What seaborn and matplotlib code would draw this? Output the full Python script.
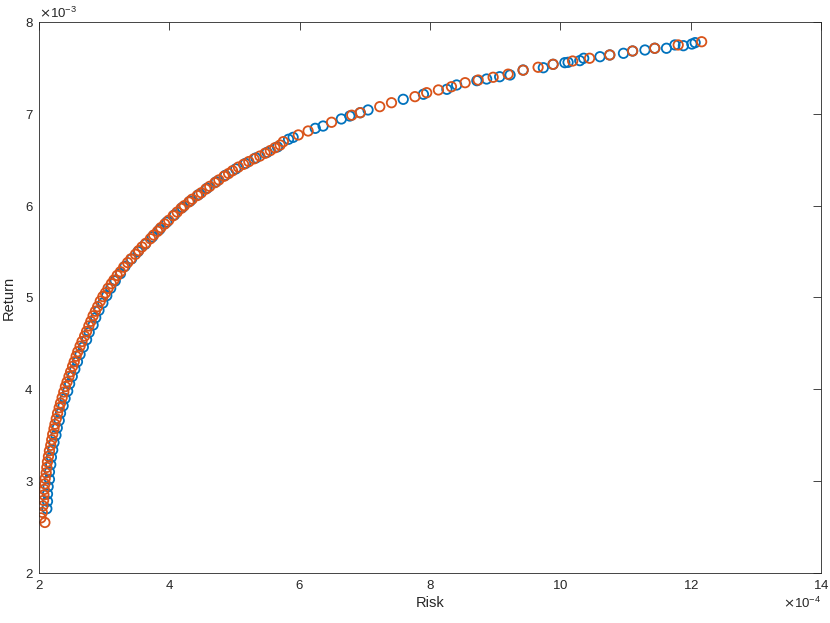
import numpy as np
import pandas as pd
import matplotlib
matplotlib.use("Agg")
import matplotlib.pyplot as plt
import seaborn as sns

# values: risk in units of 1e-4, return in units of 1e-3
blue_risk = [2.12, 2.13, 2.13, 2.14, 2.16, 2.16, 2.18, 2.19, 2.21, 2.23, 2.26, 2.28,
             2.31, 2.33, 2.37, 2.40, 2.44, 2.47, 2.51, 2.55, 2.59, 2.63, 2.68, 2.73,
             2.77, 2.83, 2.87, 2.92, 2.98, 3.04, 3.10, 3.17,
             3.25, 3.32, 3.42, 3.52, 3.63, 3.74, 3.85, 3.96, 4.08, 4.20, 4.32, 4.45, 4.58,
             4.72, 4.86, 5.02, 5.17, 5.33, 5.50, 5.66,
             5.83, 5.90, 6.24, 6.36, 6.64, 6.77, 6.93, 7.05, 7.59, 7.90, 8.26, 8.41, 8.72,
             8.87, 9.07, 9.23, 9.43, 9.74, 9.89, 10.07, 10.12, 10.30, 10.36, 10.61, 10.76,
             10.97, 11.11, 11.30, 11.45, 11.63, 11.76, 11.89, 12.02, 12.07]
blue_ret = [2.70, 2.78, 2.86, 2.94, 3.02, 3.10, 3.18, 3.26, 3.34, 3.42, 3.50, 3.58,
            3.66, 3.74, 3.82, 3.90, 3.98, 4.06, 4.14, 4.22, 4.30, 4.38, 4.46, 4.54,
            4.62, 4.70, 4.78, 4.86, 4.94, 5.02, 5.10, 5.18,
            5.26, 5.34, 5.42, 5.50, 5.58, 5.66, 5.74, 5.82, 5.90, 5.98, 6.05, 6.12, 6.19,
            6.26, 6.33, 6.40, 6.46, 6.52, 6.58, 6.64,
            6.723, 6.744, 6.842, 6.867, 6.944, 6.976, 7.012, 7.042, 7.158, 7.213, 7.267,
            7.314, 7.361, 7.379, 7.404, 7.423, 7.477, 7.502, 7.539, 7.557, 7.561, 7.579,
            7.605, 7.622, 7.641, 7.659, 7.684, 7.695, 7.714, 7.714, 7.750, 7.742, 7.760,
            7.775]

orange_risk = [2.09, 2.03, 2.05, 2.06, 2.07, 2.075, 2.08, 2.09, 2.095, 2.11, 2.12, 2.13,
               2.145, 2.16, 2.18, 2.195,
               2.21, 2.23, 2.245, 2.265, 2.285, 2.31, 2.33, 2.355, 2.38,
               2.405, 2.43, 2.46, 2.485, 2.515, 2.54, 2.57, 2.595, 2.63,
               2.66, 2.70, 2.73, 2.765, 2.795, 2.83, 2.865, 2.90, 2.94,
               2.98, 3.02, 3.06, 3.11, 3.15, 3.20, 3.25, 3.30, 3.36, 3.41, 3.48,
               3.53, 3.58, 3.64, 3.71, 3.76, 3.82, 3.87, 3.93, 3.99, 4.06, 4.12, 4.18,
               4.23, 4.30, 4.35, 4.43, 4.49, 4.56, 4.62, 4.70, 4.76, 4.84, 4.91, 4.97,
               5.06, 5.14, 5.22,
               5.30, 5.39, 5.47, 5.55, 5.62, 5.70,
               5.75, 5.98, 6.13, 6.49, 6.80, 6.93, 7.23, 7.41, 7.77, 7.95, 8.13, 8.33,
               8.54, 8.74, 8.97, 9.20, 9.43, 9.66, 9.89, 10.19, 10.45, 10.76, 11.11,
               11.45, 11.81, 12.17]
orange_ret = [2.55, 2.60, 2.66, 2.73, 2.79, 2.85, 2.91, 2.97, 3.03, 3.09, 3.15, 3.21,
              3.27, 3.33, 3.39, 3.45,
              3.51, 3.57, 3.62, 3.68, 3.74, 3.80, 3.85, 3.91, 3.97,
              4.03, 4.08, 4.14, 4.19, 4.25, 4.30, 4.36, 4.41, 4.47,
              4.52, 4.58, 4.63, 4.69, 4.74, 4.80, 4.85, 4.90, 4.96,
              5.01, 5.05, 5.10, 5.15, 5.19, 5.24, 5.28, 5.33, 5.38, 5.42, 5.47,
              5.51, 5.55, 5.59, 5.64, 5.68, 5.72, 5.76, 5.80, 5.84, 5.89, 5.93, 5.97,
              6.00, 6.04, 6.07, 6.11, 6.14, 6.18, 6.21, 6.25, 6.28, 6.32, 6.35, 6.38,
              6.42, 6.45, 6.48,
              6.51, 6.54, 6.57, 6.60, 6.63, 6.66,
              6.697, 6.770, 6.813, 6.908, 6.985, 7.012, 7.078, 7.121, 7.187, 7.230, 7.260,
              7.295, 7.339, 7.368, 7.398, 7.432, 7.475, 7.507, 7.539, 7.575, 7.605,
              7.641, 7.684, 7.714, 7.750, 7.785]

x_ticks = [2, 4, 6, 8, 10, 12, 14]
y_ticks = [2, 3, 4, 5, 6, 7, 8]

df = pd.concat([
    pd.DataFrame({'Risk': np.array(blue_risk) * 1e-4, 'Return': np.array(blue_ret) * 1e-3, 'run': 'a'}),
    pd.DataFrame({'Risk': np.array(orange_risk) * 1e-4, 'Return': np.array(orange_ret) * 1e-3, 'run': 'b'}),
], ignore_index=True)

sns.set_style("white")
plt.rcParams['font.family'] = ['Liberation Sans', 'DejaVu Sans']

dark = '#262626'
fig = plt.figure(figsize=(8.3, 6.23), dpi=100)
ax = fig.add_axes([0.047, 0.0803, 0.942, 0.8844])

sns.scatterplot(data=df, x='Risk', y='Return', hue='run',
                palette={'a': '#0072BD', 'b': '#D95319'},
                marker='o', s=46, linewidth=1.3, legend=False, ax=ax)
# open circles like matlab
for coll in ax.collections:
    fc = coll.get_facecolors()
    coll.set_edgecolors(fc)
    coll.set_facecolors('none')

ax.set_xlim(2e-4, 14e-4)
ax.set_ylim(2e-3, 8e-3)
ax.set_xticks(np.array(x_ticks) * 1e-4)
ax.set_yticks(np.array(y_ticks) * 1e-3)
ax.ticklabel_format(axis='x', style='sci', scilimits=(-4, -4), useMathText=True)
ax.ticklabel_format(axis='y', style='sci', scilimits=(-3, -3), useMathText=True)

ax.tick_params(direction='in', length=5.5, width=0.6, color=dark, labelcolor=dark,
               labelsize=9.5, top=True, right=True, pad=4)
ax.xaxis.get_offset_text().set_fontsize(9.5)
ax.yaxis.get_offset_text().set_fontsize(9.5)
ax.xaxis.get_offset_text().set_color(dark)
ax.yaxis.get_offset_text().set_color(dark)
for sp in ax.spines.values():
    sp.set_color(dark)
    sp.set_linewidth(0.6)

ax.set_xlabel('Risk', fontsize=10.5, color=dark, labelpad=3)
ax.set_ylabel('Return', fontsize=10.5, color=dark, labelpad=6)

fig.savefig('out.png', dpi=100)
